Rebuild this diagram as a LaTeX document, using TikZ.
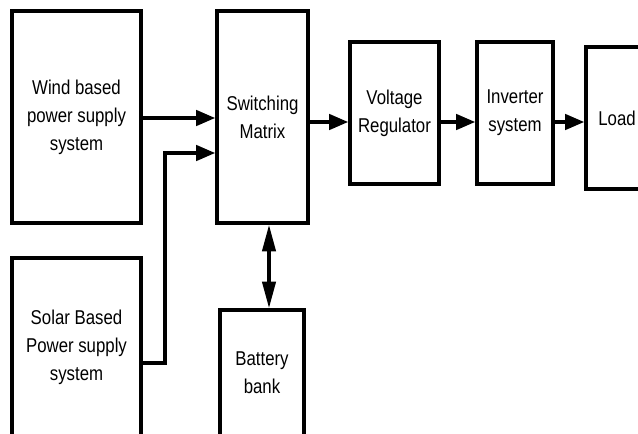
\documentclass[tikz,border=0pt]{standalone}
\usepackage{fontspec}
\setmainfont[FakeStretch=0.84]{Liberation Sans}
\usetikzlibrary{arrows.meta}
\begin{document}
\begin{tikzpicture}[x=0.75pt,y=-0.75pt,
  blk/.style={draw,line width=2.7pt,rectangle,align=center,inner sep=0pt,
    font=\fontsize{15pt}{21pt}\selectfont},
  arr/.style={line width=2.5pt,-{Triangle[length=14.25pt,width=11.5pt]}},
  darr/.style={line width=2.5pt,{Triangle[length=20pt,width=10pt]}-{Triangle[length=20pt,width=10pt]}}]
\useasboundingbox (0,0) rectangle (638,433);
\clip (0,0) rectangle (638,433);
\node[blk,minimum width=96.75pt,minimum height=159pt] (wind) at (76.5,117) {Wind based\\power supply\\system};
\node[blk,minimum width=68.25pt,minimum height=159pt] (matrix) at (262.5,117) {Switching\\Matrix};
\node[blk,minimum width=96.75pt,minimum height=133.5pt] (solar) at (76.5,347) {Solar Based\\Power supply\\system};
\node[blk,minimum width=63pt,minimum height=94.5pt] (battery) at (262,373) {Battery\\bank};
\node[blk,minimum width=66.75pt,minimum height=106.5pt] (vr) at (394.5,113) {Voltage\\Regulator};
\node[blk,minimum width=57pt,minimum height=106.5pt] (inv) at (515,113) {Inverter\\system};
\node[blk,minimum width=46.5pt,minimum height=106.5pt] (load) at (617,118) {Load};
\coordinate (bend) at (165,153);
\draw[arr] (wind.east |- 0,118) -- (matrix.west |- 0,118);
\draw[arr] (solar.east |- 0,363) -| (bend) -- (matrix.west |- bend);
\draw[arr] (matrix.east |- 0,122) -- (vr.west |- 0,122);
\draw[arr] (vr.east |- 0,122) -- (inv.west |- 0,122);
\draw[arr] (inv.east |- 0,122) -- (load.west |- 0,122);
\draw[darr] (battery.north -| 269,0) -- (matrix.south -| 269,0);
\end{tikzpicture}
\end{document}
